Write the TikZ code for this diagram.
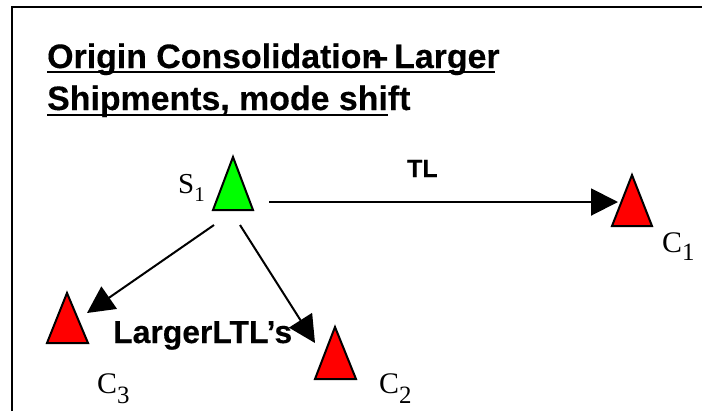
\documentclass[tikz,border=0pt]{standalone}
\usepackage{fontspec}
\setmainfont{Liberation Serif}
\newfontfamily\headfont[FakeBold=0.3]{Liberation Sans}
\usetikzlibrary{arrows.meta}

% subscripted place label: main letter, index, drop, index size
\newcommand{\placelbl}[4]{#1\raisebox{-#3}{\fontsize{#4}{#4}\selectfont #2}}

\begin{document}
\begin{tikzpicture}[x=1bp,y=-1bp,
  tri/.style={draw=black,line width=2bp,line join=miter},
  flow/.style={draw=black,line width=2bp,-{Triangle[length=27bp,width=27bp]}},
  head/.style={anchor=base west,inner sep=0pt,font=\headfont\bfseries\fontsize{34}{40}\selectfont},
  tag/.style={anchor=base west,inner sep=0pt,font=\headfont\bfseries\fontsize{#1}{#1}\selectfont},
  lbl/.style={anchor=base west,inner sep=0pt,font=\fontsize{30}{36}\selectfont},
  rule/.style={line width=2.4bp}]
\useasboundingbox (0,0) rectangle (702,411);

% frame (top and left edges)
\draw[line width=2.2bp] (12,411) -- (12,7) -- (702,7);

% heading
\node[head] (h1a) at (47,68) {Origin Consolidation};
\node[head] (h1d) at (369,68) {–};
\node[head] (h1b) at (394,68) {Larger};
\node[head] (h2) at (47,110) {Shipments, mode shift};
\draw[rule] (47,72) -- (495,72);
\draw[rule] (47,115) -- (388,115);

% supplier and customers
\draw[tri,fill=green] (233,157) -- (253,210) -- (213,210) -- cycle;
\draw[tri,fill=red] (632,175) -- (652,226) -- (612,226) -- cycle;
\draw[tri,fill=red] (67,293) -- (88,343) -- (47,343) -- cycle;
\draw[tri,fill=red] (335,327) -- (356,379) -- (315,379) -- cycle;

\node[lbl,font=\fontsize{29}{34}\selectfont] (s1) at (178,193) {\placelbl{S}{1}{8bp}{21}};
\node[lbl] (c1) at (662,252) {\placelbl{C}{1}{8bp}{25}};
\node[lbl] (c3) at (97,393) {\placelbl{C}{3}{10bp}{25}};
\node[lbl] (c2) at (379,393) {\placelbl{C}{2}{10bp}{25}};

% shipment flows
\coordinate (s1e) at (269,202);
\coordinate (c1w) at (618,202);
\coordinate (s1sw) at (214,225);
\coordinate (c3ne) at (87,313);
\coordinate (s1se) at (240,225);
\coordinate (c2nw) at (315,343);
\draw[flow] (s1e) -- (c1w);
\draw[flow] (s1sw) -- (c3ne);
\draw[flow] (s1se) -- (c2nw);

\node[tag=25] (tl) at (407,177) {TL};
\node[tag=32] (ltl) at (113,343) {LargerLTL’s};
\end{tikzpicture}
\end{document}
